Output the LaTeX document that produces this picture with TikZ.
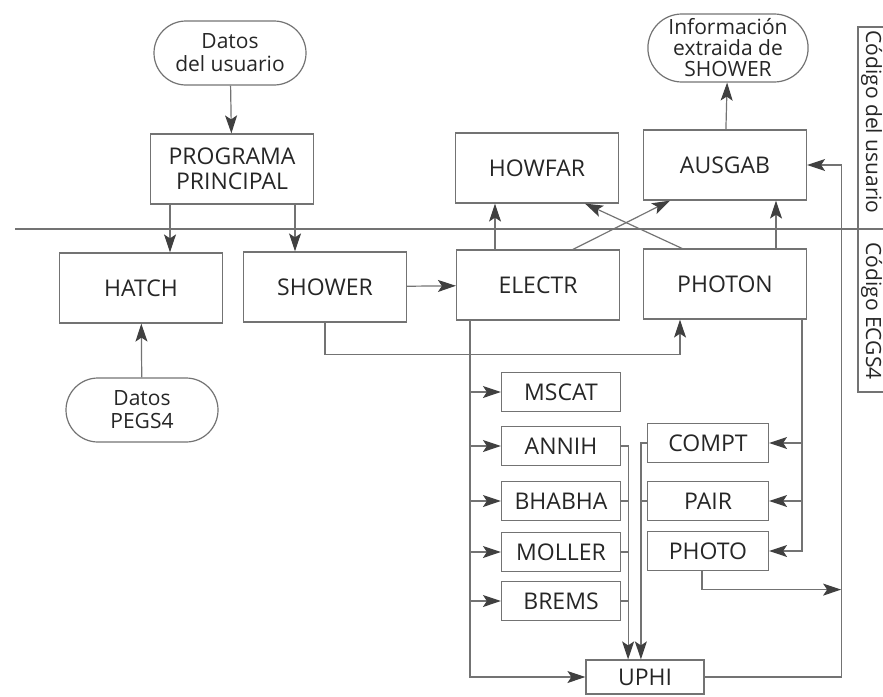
\documentclass[tikz,border=0pt]{standalone}
\usepackage{fontspec}
\setmainfont{Open Sans}
\usepackage{tikz}
\usetikzlibrary{positioning, calc, arrows.meta, shapes.misc}

\begin{document}
\begin{tikzpicture}[x=0.5pt, y=-0.5pt,
    line/.style={draw=black!55, line width=0.6pt},
    arr/.style={line, -{Stealth[length=9pt, width=6pt, inset=2pt, color=black!75, fill=black!75]}},
    box/.style={draw=black!55, line width=0.6pt, minimum width=81.5pt, minimum height=35pt,
        inner sep=2pt, align=center, text=black!85, font=\fontsize{11.5}{12.5}\selectfont},
    proc/.style={box, minimum width=59.5pt, minimum height=19.5pt},
    term/.style={box, rounded rectangle, minimum width=80pt, minimum height=32pt,
        font=\fontsize{10.5}{11.5}\selectfont},
    sidelbl/.style={rotate=-90, anchor=base, inner sep=0pt, text=black!85,
        font=\fontsize{10.5}{12}\selectfont}]
    \useasboundingbox (0,0) rectangle (883,696);

    % Separation line
    \draw[line] (15,229) -- (883,229);

    % Side labels
    \draw[line] (858,27) rectangle (884,392);
    \node[sidelbl] (lblusr) at (866,122) {Código del usuario};
    \node[sidelbl] (lblegs) at (866,311) {Código ECGS4};

    % User side
    \node[term] (usr) at (230,53) {Datos\\del usuario};
    \node[box] (prog) at (232,169) {PROGRAMA\\PRINCIPAL};
    \node[box] (howfar) at (537,168) {HOWFAR};
    \node[box] (ausgab) at (725,165) {AUSGAB};
    \node[term, minimum width=75pt, minimum height=34pt, font=\fontsize{10.5}{10.5}\selectfont]
        (info) at (728,48) {Información\\extraida de\\SHOWER};

    % EGS side
    \node[box] (hatch) at (141,288) {HATCH};
    \node[box] (shower) at (325,287) {SHOWER};
    \node[box] (electr) at (538,285) {ELECTR};
    \node[box] (photon) at (725,284) {PHOTON};
    \node[term] (pegs) at (142,410) {Datos\\PEGS4};

    % Interaction routines
    \node[proc] (mscat) at (561,392) {MSCAT};
    \node[proc] (annih) at (561,446) {ANNIH};
    \node[proc] (bhabha) at (561,501) {BHABHA};
    \node[proc] (moller) at (561,552) {MOLLER};
    \node[proc] (brems) at (561,601) {BREMS};
    \node[proc, minimum width=60.5pt] (compt) at (708,443) {COMPT};
    \node[proc, minimum width=60.5pt] (pair) at (708,501) {PAIR};
    \node[proc, minimum width=60.5pt] (photo) at (708,551) {PHOTO};
    \node[proc, minimum width=59pt, minimum height=17pt] (uphi) at (645,677) {UPHI};

    % Helper coordinates
    \coordinate (espine) at ([xshift=-34pt]electr.south);
    \coordinate (pspine) at ([xshift=38.5pt]photon.south);
    \coordinate (acol) at ([xshift=3.5pt]annih.east);
    \coordinate (ccol) at ([xshift=-3pt]compt.west);
    \coordinate (rtop) at ([xshift=17pt]ausgab.east);
    \coordinate (pjoin) at ([xshift=-3pt, yshift=-9.25pt]photo.south);

    % Main program
    \draw[arr] (usr) -- (prog);
    \draw[arr] ([xshift=-31pt]prog.south) -- ([xshift=-31pt]prog.south |- hatch.north);
    \draw[arr] ([xshift=31.5pt]prog.south) -- ([xshift=31.5pt]prog.south |- shower.north);
    \draw[arr] (pegs) -- (hatch);

    % Shower
    \draw[arr] (shower) -- (electr);
    \draw[arr] (shower.south) -- ++(0,32) -| ([xshift=-22.5pt]photon.south);

    % Transport and output
    \draw[arr] ([xshift=-21.5pt]electr.north) -- ([xshift=-21.5pt]electr.north |- howfar.south);
    \draw[arr] ([xshift=25.5pt]photon.north) -- ([xshift=25.5pt]photon.north |- ausgab.south);
    \draw[arr] ([xshift=17.5pt]electr.north) -- ([xshift=-27.5pt]ausgab.south);
    \draw[arr] ([xshift=-21.5pt]photon.north) -- ([xshift=24pt]howfar.south);
    \draw[arr] (ausgab) -- (info);

    % Electron routines
    \draw[arr] (espine) |- (uphi.west);
    \foreach \n in {mscat,annih,bhabha,moller,brems}
        \draw[arr] (\n.west -| espine) -- (\n.west);
    \draw[arr] (annih.east) -- (acol) -- (acol |- uphi.north);
    \foreach \n in {bhabha,moller,brems}
        \draw[line] (\n.east) -- (\n.east -| acol);

    % Photon routines
    \draw[arr] (pspine) |- (photo.east);
    \foreach \n in {compt,pair}
        \draw[arr] (\n.east -| pspine) -- (\n.east);
    \draw[arr] (compt.west) -- (ccol) -- (ccol |- uphi.north);
    \draw[line] (pair.west) -- (pair.west -| ccol);

    % Back to AUSGAB
    \draw[arr] (uphi.east) -| (rtop) -- (ausgab.east);
    \draw[arr] ([xshift=-3pt]photo.south) -- (pjoin) -- (pjoin -| rtop);

\end{tikzpicture}
\end{document}
